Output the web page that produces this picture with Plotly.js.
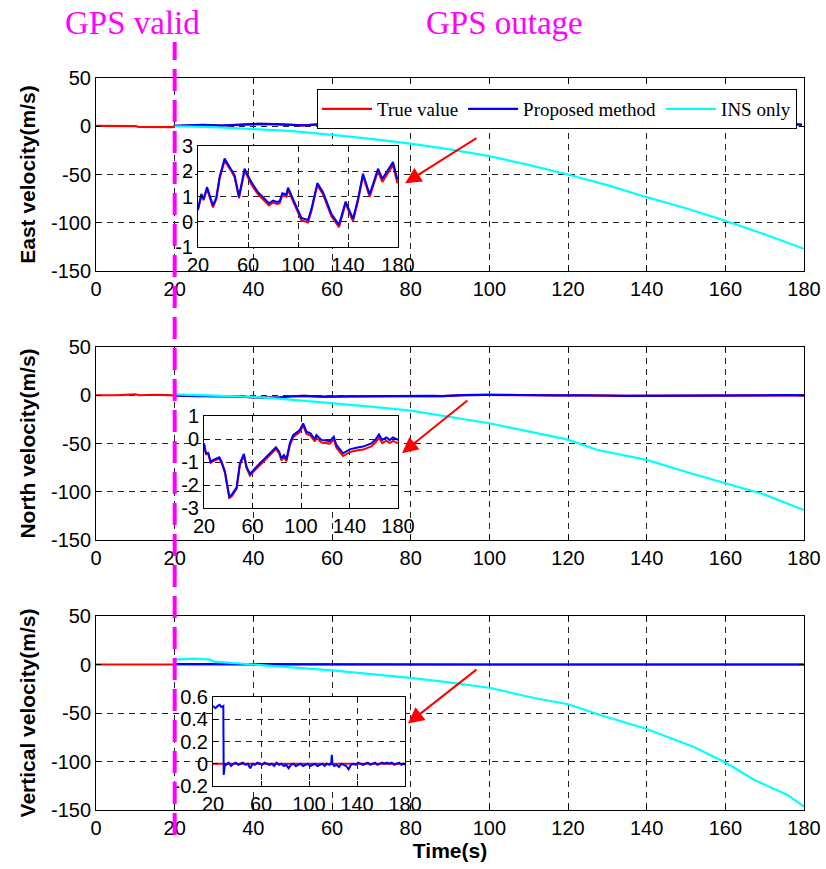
<!DOCTYPE html>
<html><head><meta charset="utf-8">
<script src="https://cdn.plot.ly/plotly-3.0.1.min.js"></script>
<style>html,body{margin:0;padding:0;background:#fff}</style>
</head><body><div id="chart" style="width:826px;height:869px"></div>
<script>
// ---------------- data ----------------
const gpsOutageStart = 20;
const mainXTicks = [0, 20, 40, 60, 80, 100, 120, 140, 160, 180];
const mainYTicks = [50, 0, -50, -100, -150];
const mainYTickText = ['50', '0', '-50', '-100', '-150'];
const insetXTicks = [20, 60, 100, 140, 180];

// before the outage (true value only)
const tPre = [0, 5, 10, 11, 15, 19.5];
const eastPre = [0.3, 0.2, 0.1, -0.8, -0.9, -0.9];
const northPre = [0, 0, 1, 0, 0.5, 0.5];
const vertPre = [0, 0, 0, 0, 0, 0];

// East velocity (m/s)
const tEast = [20, 22.7, 24.5, 27.2, 32, 34.7, 37.3, 41.3, 45.3, 47,
  49.3, 52.8, 57.3, 62.7, 68, 76.8, 80, 83, 85.3, 87.5,
  90.7, 92, 96, 102.7, 108, 110.7, 115.5, 120, 126.7, 132.8,
  138.1, 144, 148, 152, 157.3, 164, 167.5, 172.8, 176, 179.5];
const eastProposed = [0.5, 1.1, 0.9, 1.37, 0.64, 0.97, 1.77, 2.5, 2.17, 2.05,
  1.84, 1.0, 2.1, 1.57, 1.17, 0.73, 0.84, 0.78, 0.81, 1.13,
  1.08, 1.35, 0.9, 0.15, 0.07, 0.5, 1.53, 1.17, 0.31, -0.12,
  0.8, 0.11, 0.9, 1.9, 1.08, 2.1, 1.7, 2.15, 2.37, 1.67];
const eastTrue = [0.45, 1.05, 0.85, 1.3, 0.57, 0.9, 1.7, 2.42, 2.1, 1.98,
  1.76, 0.93, 2.02, 1.48, 1.08, 0.65, 0.76, 0.7, 0.73, 1.05,
  1.0, 1.27, 0.82, 0.06, -0.03, 0.42, 1.45, 1.08, 0.22, -0.22,
  0.72, 0.02, 0.82, 1.82, 0.98, 2.0, 1.58, 2.02, 2.25, 1.52];
const tEastINS = [20, 30, 40, 50, 60, 70, 80, 90, 100, 110, 120, 130, 140, 150, 160, 170, 180];
const eastINS = [0, -1, -3, -5, -9, -13, -18, -24, -31, -40, -50, -61, -73.5, -85, -98, -112, -127];

// North velocity (m/s)
const tNorth = [20, 21.6, 23.5, 25.5, 27.7, 30, 32.6, 34.5, 37.3, 38.7,
  40.9, 42.8, 46.9, 49.6, 52.9, 55.1, 57.9, 63.4, 71.6, 79.3,
  82, 83.9, 85.9, 88, 90.8, 93.5, 99, 101.8, 104.5, 107.8,
  111.4, 112.7, 116.9, 123.7, 127, 129.2, 134.7, 140.2, 145.7, 151.2,
  158, 161.6, 164.3, 167, 170.4, 173.1, 175.9, 180];
const northProposed = [-0.19, -0.62, -0.6, -0.99, -0.91, -0.85, -0.8, -0.99, -1.42, -1.86,
  -2.51, -2.43, -2.1, -1.06, -0.65, -1.2, -1.52, -1.2, -0.77, -0.36,
  -0.55, -0.84, -0.7, -0.88, -0.19, 0.17, 0.39, 0.68, 0.32, 0.25,
  -0.01, 0.17, -0.04, -0.09, 0.1, -0.26, -0.62, -0.45, -0.38, -0.33,
  -0.19, -0.01, 0.2, -0.04, 0.07, -0.04, 0.07, -0.04];
const northTrue = [-0.23, -0.66, -0.65, -1.04, -0.96, -0.9, -0.85, -1.04, -1.47, -1.92,
  -2.57, -2.5, -2.17, -1.13, -0.72, -1.27, -1.6, -1.28, -0.85, -0.44,
  -0.63, -0.93, -0.79, -0.97, -0.28, 0.08, 0.3, 0.59, 0.22, 0.15,
  -0.11, 0.06, -0.15, -0.2, -0.02, -0.38, -0.74, -0.57, -0.5, -0.46,
  -0.32, -0.14, 0.06, -0.18, -0.07, -0.18, -0.08, -0.19];
const tNorthINS = [20, 30, 40, 49.4, 60, 70.6, 80, 89.5, 100, 113, 120, 127.3, 140, 151, 160, 170, 180];
const northINS = [1, 0, -1.7, -4.5, -8, -12, -16, -22, -29, -40, -46, -56.5, -67, -80.5, -91, -103, -119];

// Vertical velocity (m/s)
const tVert = [20, 22, 24, 25.5, 27, 28.6, 28.9, 29.3, 30, 31,
  33, 35, 37, 39, 41, 43, 45, 47, 49, 51,
  53, 55, 57, 59, 61, 63, 65, 67, 69, 71,
  73, 75, 77, 79, 81, 83, 85, 87, 89, 91,
  93, 95, 97, 99, 101, 103, 105, 107, 109, 111,
  113, 115, 117, 118.5, 119, 119.5, 121, 123, 125, 127,
  129, 131, 133, 135, 137, 139, 141, 143, 145, 147,
  149, 151, 153, 155, 157, 159, 161, 163, 165, 167,
  169, 171, 173, 175, 177, 179, 180];
const vertProposed = [0.52, 0.50, 0.52, 0.53, 0.51, 0.52, -0.10, -0.03, 0.0, -0.01,
  0.01, -0.02, 0.0, 0.01, -0.01, 0.0, 0.01, -0.01, 0.0, -0.04,
  0.0, -0.01, 0.01, 0.0, -0.01, 0.01, 0.0, -0.01, 0.0, -0.02,
  0.01, -0.01, 0.0, -0.02, -0.01, -0.04, -0.01, 0.0, -0.02, -0.01,
  0.0, -0.02, -0.01, 0.0, -0.02, -0.01, 0.0, -0.02, -0.01, 0.0,
  -0.02, 0.0, -0.01, 0.0, 0.08, 0.0, -0.02, -0.01, -0.03, 0.0,
  -0.01, -0.02, -0.05, -0.01, 0.0, -0.01, 0.01, 0.0, -0.01, 0.0,
  0.01, -0.01, 0.0, 0.01, -0.01, 0.0, 0.01, 0.0, 0.01, 0.0,
  0.01, -0.01, 0.0, 0.01, -0.01, 0.0, -0.01];
const tVertTrue = [20, 180];
const vertTrue = [0, 0];
const tVertINS = [20, 25, 29, 30, 40, 50, 60, 70, 80, 88.6, 100, 111.4, 120, 128.2, 140, 152, 160, 167.4, 175.8, 180];
const vertINS = [5, 6, 5, 3, 0, -3, -6, -10, -13.8, -17.9, -24, -34.5, -41, -52, -66.5, -85, -101, -119, -134.5, -146.6];

const panelTitles = ['East velocity(m/s)', 'North velocity(m/s)', 'Vertical velocity(m/s)'];
const seriesNames = ['True value', 'Proposed method', 'INS only'];
const insetYTicks = [[3, 2, 1, 0, -1], [1, 0, -1, -2, -3], [0.6, 0.4, 0.2, 0, -0.2]];
const insetYTickText = [['3', '2', '1', '0', '-1'], ['1', '0', '-1', '-2', '-3'], ['0.6', '0.4', '0.2', '0', '-0.2']];
const insetYRanges = [[-1, 3], [-3, 1], [-0.2, 0.6]];

// ---------------- layout helpers ----------------
const W = 826, H = 869;
const xd = (a, b) => [a / W, b / W];
const yd = (top, bottom) => [1 - bottom / H, 1 - top / H];
const COLORS = ['#ff0000', '#0000ff', '#00ffff'];
const tickFont = {family: 'Liberation Sans, Arial, sans-serif', size: 20, color: '#000'};
const titleFont = {family: 'Liberation Sans, Arial, sans-serif', size: 21, color: '#000', weight: 'bold'};
const grid = {showgrid: true, gridcolor: '#222', gridwidth: 1, griddash: '6px,5px'};
const frame = {showline: true, linecolor: '#000', linewidth: 1, mirror: 'ticks', ticks: 'inside',
  ticklen: 5, tickcolor: '#000', zeroline: false, tickfont: tickFont, fixedrange: true};

const mainXDom = xd(96, 804);
const mainYDoms = [yd(78, 271), yd(347, 540), yd(616, 810)];
const insetXDoms = [xd(198, 398), xd(204, 398), xd(213, 405)];
const insetYDoms = [yd(146, 247), yd(416, 508), yd(697, 786)];

const layout = {
  width: W, height: H, margin: {l: 0, r: 0, t: 0, b: 0},
  paper_bgcolor: '#fff', plot_bgcolor: '#fff', showlegend: true,
  legend: {orientation: 'h', x: 797 / W, xanchor: 'right', y: 1 - 89 / H, yanchor: 'top',
    bgcolor: '#fff', bordercolor: '#000', borderwidth: 1, itemwidth: 50,
    font: {family: 'Liberation Serif, Times New Roman, serif', size: 19, color: '#000'}},
  annotations: [], shapes: []
};

for (let i = 0; i < 3; i++) {
  const n = i === 0 ? '' : String(i + 1);
  layout['xaxis' + n] = Object.assign({}, frame, grid, {
    domain: mainXDom, anchor: 'y' + n, range: [0, 180],
    tickmode: 'array', tickvals: mainXTicks, ticktext: mainXTicks.map(String),
    title: i === 2 ? {text: 'Time(s)', font: titleFont, standoff: 5} : {text: ''}
  });
  layout['yaxis' + n] = Object.assign({}, frame, grid, {
    domain: mainYDoms[i], anchor: 'x' + n, range: [-150, 50],
    tickmode: 'array', tickvals: mainYTicks, ticktext: mainYTickText,
    title: {text: panelTitles[i], font: titleFont, standoff: 9}
  });
  const m = String(i + 4);
  layout['xaxis' + m] = Object.assign({}, frame, grid, {
    domain: insetXDoms[i], anchor: 'y' + m, range: [20, 180],
    tickmode: 'array', tickvals: insetXTicks, ticktext: insetXTicks.map(String)
  });
  layout['yaxis' + m] = Object.assign({}, frame, grid, {
    domain: insetYDoms[i], anchor: 'x' + m, range: insetYRanges[i],
    tickmode: 'array', tickvals: insetYTicks[i], ticktext: insetYTickText[i]
  });
}

// ---------------- traces ----------------
const panels = [
  {tTrue: tPre.concat(tEast), vTrue: eastPre.concat(eastTrue), tIn: tEast, vIn: eastTrue,
   tProp: tEast, vProp: eastProposed, tIns: tEastINS, vIns: eastINS},
  {tTrue: tPre.concat(tNorth), vTrue: northPre.concat(northTrue), tIn: tNorth, vIn: northTrue,
   tProp: tNorth, vProp: northProposed, tIns: tNorthINS, vIns: northINS},
  {tTrue: tPre.concat(tVertTrue), vTrue: vertPre.concat(vertTrue), tIn: tVertTrue, vIn: vertTrue,
   tProp: tVert, vProp: vertProposed, tIns: tVertINS, vIns: vertINS}
];
const traces = [];
panels.forEach((p, i) => {
  const n = i === 0 ? '' : String(i + 1);
  const xa = 'x' + n, ya = 'y' + n;
  const sets = [[p.tTrue, p.vTrue], [p.tProp, p.vProp], [p.tIns, p.vIns]];
  sets.forEach((s, k) => {
    traces.push({type: 'scatter', mode: 'lines', x: s[0], y: s[1], xaxis: xa, yaxis: ya,
      name: seriesNames[k], legendgroup: seriesNames[k], showlegend: i === 0,
      line: {color: COLORS[k], width: 2.2}, hoverinfo: 'skip'});
  });
});
panels.forEach((p, i) => {
  const m = String(i + 4);
  traces.push({type: 'scatter', mode: 'lines', x: p.tIn, y: p.vIn, xaxis: 'x' + m, yaxis: 'y' + m,
    showlegend: false, line: {color: COLORS[0], width: 2}, hoverinfo: 'skip'});
  traces.push({type: 'scatter', mode: 'lines', x: p.tProp, y: p.vProp, xaxis: 'x' + m, yaxis: 'y' + m,
    showlegend: false, line: {color: COLORS[1], width: 2}, hoverinfo: 'skip'});
});

// ---------------- decorations ----------------
layout.shapes.push({type: 'line', xref: 'x', yref: 'paper', x0: gpsOutageStart, x1: gpsOutageStart,
  y0: 1 - 835 / H, y1: 1 - 42 / H, layer: 'above',
  line: {color: '#ff00ff', width: 4, dash: '22px,9px'}});

const lblFont = {family: 'Liberation Serif, Times New Roman, serif', size: 33, color: '#ff00ff'};
layout.annotations.push({xref: 'paper', yref: 'paper', x: 132 / W, y: 1 - 23 / H, text: 'GPS valid',
  showarrow: false, xanchor: 'center', yanchor: 'middle', font: lblFont});
layout.annotations.push({xref: 'paper', yref: 'paper', x: 504 / W, y: 1 - 23 / H, text: 'GPS outage',
  showarrow: false, xanchor: 'center', yanchor: 'middle', font: lblFont});

const arrows = [
  {n: '', x: 78.6, y: -59, ax: 97.1, ay: -11.4},
  {n: '2', x: 77.8, y: -60, ax: 94.8, ay: -4.1},
  {n: '3', x: 79.3, y: -60.8, ax: 97.1, ay: -4.1}
];
arrows.forEach(a => {
  layout.annotations.push({xref: 'x' + a.n, yref: 'y' + a.n, axref: 'x' + a.n, ayref: 'y' + a.n,
    x: a.x, y: a.y, ax: a.ax, ay: a.ay, text: '', showarrow: true,
    arrowhead: 2, arrowsize: 1.6, arrowwidth: 2, arrowcolor: '#ff0000', standoff: 0, startstandoff: 0});
});

Plotly.newPlot('chart', traces, layout, {displayModeBar: false, staticPlot: true});
</script>
</body></html>
